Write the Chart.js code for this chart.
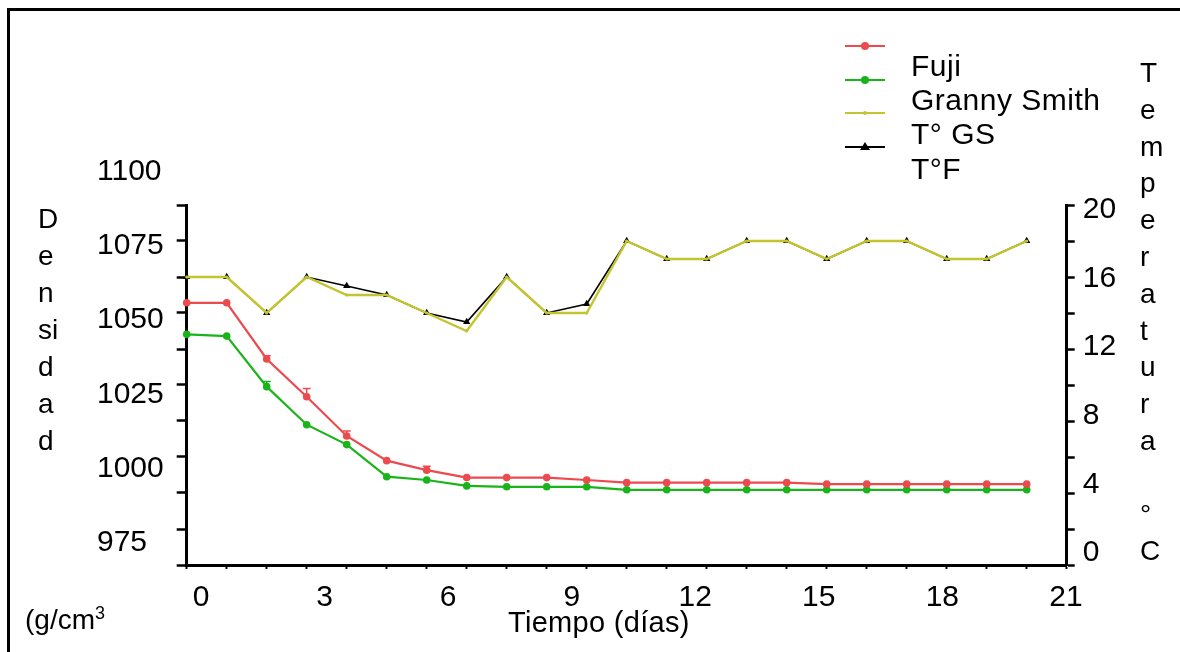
<!DOCTYPE html>
<html>
<head>
<meta charset="utf-8">
<title>Densidad y temperatura</title>
<script src="https://cdn.jsdelivr.net/npm/chart.js@4.4.1/dist/chart.umd.min.js"></script>
<style>
  html, body { margin: 0; padding: 0; background: #fff; }
  #wrap { position: relative; width: 1180px; height: 652px; overflow: hidden;
          font-family: "Liberation Sans", Arial, sans-serif; color: #000; }
  #frame { position: absolute; left: 7px; top: 8px; right: -10px; bottom: -10px;
           border-top: 3px solid #000; border-left: 3px solid #000; }
  canvas { position: absolute; left: 0; top: 0; }
  .t { position: absolute; font-size: 28px; white-space: nowrap; }
  .col { position: absolute; font-size: 28px; line-height: 37px; }
  .sym { position: absolute; width: 40px; height: 2px; }
  .dot { position: absolute; border-radius: 50%; }
  .tri { position: absolute; width: 0; height: 0; border-left: 5px solid transparent;
         border-right: 5px solid transparent; border-bottom: 8px solid #000; }
</style>
</head>
<body>
<div id="wrap">
  <div id="frame"></div>
  <canvas id="c" width="1180" height="652"></canvas>
  <div class="col" style="left:38px; top:200px;">D<br>e<br>n<br>si<br>d<br>a<br>d</div>
  <div class="col" style="left:1140px; top:55px; line-height:36.8px;">T<br>e<br>m<br>p<br>e<br>r<br>a<br>t<br>u<br>r<br>a<br>&nbsp;<br>°<br>C</div>
  <div class="t" style="left:25px; top:598px; line-height:30px;">(g/cm<sup style="font-size:18px;">3</sup></div>
  <div class="t" style="left:508px; top:607px; line-height:30px; font-size:29px; letter-spacing:0.3px;">Tiempo (días)</div>
  <div id="legend"></div>
</div>
<script>
// dias de medicion
const days = [0, 1, 2, 3, 4, 5, 6, 7, 8, 9, 10, 11, 12, 13, 14, 15, 16, 17, 18, 19, 20, 21];

// densidad (g/L)
const fuji = [1055.8, 1055.8, 1036.9, 1024.2, 1011.0, 1002.7, 999.5, 997.0, 997.0, 997.0, 996.2,
              995.3, 995.3, 995.3, 995.3, 995.3, 994.8, 994.8, 994.8, 994.8, 994.8, 994.8];
const fujiErr = [0, 0, 1.1, 2.8, 1.7, 0, 1.3, 0, 0, 0, 0, 0, 0, 0, 0, 0, 0, 0, 0, 0, 0, 0];
const granny = [1045.2, 1044.6, 1027.6, 1014.8, 1008.1, 997.3, 996.2, 994.2, 993.9, 993.9, 993.9,
                992.9, 992.9, 992.9, 992.9, 992.9, 992.9, 992.9, 992.9, 992.9, 992.9, 992.9];
const grannyErr = [0, 0, 1.7, 0, 0, 0, 0, 0, 0, 0, 0, 0, 0, 0, 0, 0, 0, 0, 0, 0, 0, 0];

// temperatura (°C)
const tempGS = [16, 16, 14, 16, 15, 15, 14, 13, 16, 14, 14, 18, 17, 17, 18, 18, 17, 18, 18, 17, 17, 18];
const tempF = [16, 16, 14, 16, 15.5, 15, 14, 13.5, 16, 14, 14.5, 18, 17, 17, 18, 18, 17, 18, 18, 17, 17, 18];

// etiquetas de los ejes
const densityTicks = [975, 1000, 1025, 1050, 1075, 1100];
const dayStep = 3;
const tempStep = 4;

const names = ['Fuji', 'Granny Smith', 'T° GS', 'T°F'];
const colors = ['#ec4a4d', '#1ab41a', '#c4c42e', '#000000'];

const FONT = '"Liberation Sans", Arial, sans-serif';
Chart.defaults.font.family = FONT;
Chart.defaults.color = '#000';

function pts(arr) {
  return days.map((d, i) => ({ x: d, y: arr[i] }));
}

// barras de error (solo hacia arriba)
const errorBars = {
  id: 'errorBars',
  afterDatasetsDraw(chart) {
    const ctx = chart.ctx;
    const ys = chart.scales.y;
    chart.data.datasets.forEach((ds, i) => {
      if (!ds.errors) return;
      chart.getDatasetMeta(i).data.forEach((p, j) => {
        const e = ds.errors[j];
        if (!e) return;
        const top = ys.getPixelForValue(ds.data[j].y + e);
        ctx.save();
        ctx.strokeStyle = ds.borderColor;
        ctx.lineWidth = 1.5;
        ctx.beginPath();
        ctx.moveTo(p.x, p.y);
        ctx.lineTo(p.x, top);
        ctx.moveTo(p.x - 4, top);
        ctx.lineTo(p.x + 4, top);
        ctx.stroke();
        ctx.restore();
      });
    });
  }
};

// numeros del eje de densidad (van corridos respecto a las marcas)
const densityLabels = {
  id: 'densityLabels',
  afterDraw(chart) {
    const ctx = chart.ctx;
    const ys = chart.scales.y;
    ctx.save();
    ctx.font = '30px ' + FONT;
    ctx.fillStyle = '#000';
    ctx.textAlign = 'left';
    ctx.textBaseline = 'middle';
    densityTicks.forEach(v => ctx.fillText(String(v), 97, ys.getPixelForValue(v)));
    ctx.restore();
  }
};

const axisBorder = { color: '#000', width: 3 };

new Chart(document.getElementById('c'), {
  type: 'line',
  data: {
    datasets: [
      { label: names[0], data: pts(fuji), errors: fujiErr, yAxisID: 'y',
        borderColor: colors[0], backgroundColor: colors[0], borderWidth: 2.2,
        pointRadius: 3.8, pointBorderWidth: 0, clip: false },
      { label: names[1], data: pts(granny), errors: grannyErr, yAxisID: 'y',
        borderColor: colors[1], backgroundColor: colors[1], borderWidth: 2.2,
        pointRadius: 3.8, pointBorderWidth: 0, clip: false },
      { label: names[2], data: pts(tempGS), yAxisID: 'y2',
        borderColor: colors[2], backgroundColor: colors[2], borderWidth: 2.4,
        pointRadius: 1.6, pointBorderWidth: 0, clip: false },
      { label: names[3], data: pts(tempF), yAxisID: 'y2',
        borderColor: colors[3], backgroundColor: colors[3], borderWidth: 1.6,
        pointStyle: 'triangle', pointRadius: 4.2, pointBorderWidth: 0, clip: false }
    ]
  },
  options: {
    responsive: false,
    animation: false,
    devicePixelRatio: 1,
    layout: { padding: { top: 205, left: 0, right: 0, bottom: 0 } },
    plugins: { legend: { display: false }, tooltip: { enabled: false } },
    scales: {
      x: {
        type: 'linear', position: 'bottom', min: 0, max: 22,
        ticks: { stepSize: 1, autoSkip: false, padding: 0, callback: () => '' },
        grid: { drawOnChartArea: false, tickLength: 4, tickWidth: 2, color: '#000' },
        border: axisBorder,
        afterFit: s => { s.height = 6; }
      },
      x2: {
        type: 'linear', position: 'bottom', min: -0.35, max: 21.02,
        ticks: { stepSize: dayStep, includeBounds: false, autoSkip: false, maxRotation: 0,
                 padding: 9, font: { size: 30 }, color: '#000' },
        grid: { display: false, drawTicks: false },
        border: { display: false },
        afterFit: s => { s.height = 81; }
      },
      y: {
        position: 'left', min: 967.6, max: 1088.7,
        afterBuildTicks: s => {
          const n = 10;
          s.ticks = Array.from({ length: n + 1 }, (_, k) => ({ value: s.min + k * (s.max - s.min) / n }));
        },
        ticks: { callback: () => '' },
        grid: { drawOnChartArea: false, tickLength: 10, tickWidth: 2.5, color: '#000' },
        border: axisBorder,
        afterFit: s => { s.width = 186.7; }
      },
      y2: {
        position: 'right', min: 0, max: 20,
        ticks: { stepSize: 2, padding: 0, callback: () => '' },
        grid: { drawOnChartArea: false, tickLength: 8, tickWidth: 2.5, color: '#000' },
        border: axisBorder,
        afterFit: s => { s.width = 10; }
      },
      y2lab: {
        position: 'right', min: -0.70, max: 20.29,
        ticks: { stepSize: tempStep, includeBounds: false, padding: 6,
                 font: { size: 30 }, color: '#000' },
        grid: { display: false, drawTicks: false },
        border: { display: false },
        afterFit: s => { s.width = 103.3; }
      }
    }
  },
  plugins: [errorBars, densityLabels]
});

// leyenda (simbolos algo desplazados respecto al texto, como en el original)
const legend = document.getElementById('legend');
names.forEach((name, i) => {
  const t = document.createElement('div');
  t.className = 't';
  t.style.cssText = 'left:911px; font-size:30px; letter-spacing:0.5px; line-height:34.4px; top:' + (48.5 + i * 34.4) + 'px;';
  t.textContent = name;
  legend.appendChild(t);

  const cy = 46 + i * 33.7;
  const line = document.createElement('div');
  line.className = 'sym';
  line.style.cssText = 'left:845px; top:' + (cy - 1) + 'px; background:' + colors[i] + ';';
  legend.appendChild(line);

  if (i === 3) {
    const tri = document.createElement('div');
    tri.className = 'tri';
    tri.style.cssText = 'left:860px; top:' + (cy - 5) + 'px;';
    legend.appendChild(tri);
  } else {
    const r = i === 2 ? 2 : 4;
    const d = document.createElement('div');
    d.className = 'dot';
    d.style.cssText = 'left:' + (865 - r) + 'px; top:' + (cy - r) + 'px; width:' + (2 * r) +
      'px; height:' + (2 * r) + 'px; background:' + colors[i] + ';';
    legend.appendChild(d);
  }
});
</script>
</body>
</html>
